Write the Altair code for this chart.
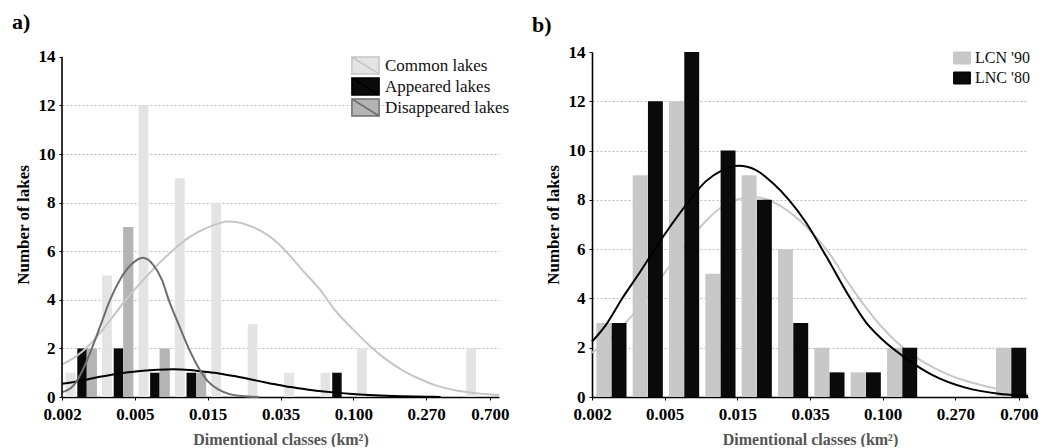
import altair as alt
import pandas as pd

FONT = "Liberation Serif"

# ---------------- shared class axis ----------------
class_index = list(range(12))
tick_pos = [0, 2, 4, 6, 8, 10, 11.75]
tick_text = ["0.002", "0.005", "0.015", "0.035", "0.100", "0.270", "0.700"]
y_ticks = [0, 2, 4, 6, 8, 10, 12, 14]

# ---------------- panel a : bars ----------------
series_a = ["Common lakes", "Appeared lakes", "Disappeared lakes"]
common_lakes = [1, 5, 12, 9, 8, 3, 1, 1, 2, 0, 0, 2]
appeared_lakes = [2, 2, 1, 1, 0, 0, 0, 1, 0, 0, 0, 0]
disappeared_lakes = [2, 7, 2, 1, 0, 0, 0, 0, 0, 0, 0, 0]

# ---------------- panel a : fitted curves ----------------
common_curve_x = [0.0, 0.05, 0.78, 1.24, 1.70, 2.25, 2.80, 3.52, 3.99, 4.57, 5.23, 5.69, 6.13,
                  6.60, 7.06, 7.51, 7.98, 8.44, 8.89, 9.35, 9.81, 10.26, 10.73, 11.19, 11.64, 12.0]
common_curve_y = [1.35, 1.38, 2.18, 3.0, 3.9, 4.85, 5.7, 6.6, 6.97, 7.22, 7.0, 6.62, 6.03,
                  5.22, 4.47, 3.55, 2.8, 2.12, 1.56, 1.1, 0.75, 0.48, 0.3, 0.19, 0.12, 0.08]

appeared_curve_x = [0.0, 0.5, 1.0, 1.4, 2.15, 3.07, 3.5, 3.85, 4.31, 4.77, 5.23, 5.69, 6.13,
                    6.6, 7.06, 7.51, 7.98, 8.44, 8.89, 9.35, 10.0, 10.4]
appeared_curve_y = [0.55, 0.66, 0.82, 0.93, 1.07, 1.14, 1.11, 1.05, 0.97, 0.85, 0.71, 0.57, 0.44,
                    0.34, 0.25, 0.18, 0.12, 0.08, 0.05, 0.03, 0.01, 0.0]

disappeared_curve_x = [0.0, 0.3, 0.55, 0.82, 1.07, 1.32, 1.6, 1.9, 2.22, 2.5, 2.75, 2.93, 3.2,
                       3.48, 3.75, 4.0, 4.3, 4.6, 5.0, 5.4]
disappeared_curve_y = [0.2, 0.45, 1.05, 2.0, 3.0, 4.0, 4.85, 5.45, 5.73, 5.45, 4.8, 4.0, 3.0,
                       2.0, 1.2, 0.65, 0.3, 0.12, 0.03, 0.0]

# ---------------- panel b : bars ----------------
series_b = ["LCN '90", "LNC '80"]
lcn90 = [3, 9, 12, 5, 9, 6, 2, 1, 2, 0, 0, 2]
lnc80 = [3, 12, 14, 10, 8, 3, 1, 1, 2, 0, 0, 2]

# ---------------- panel b : fitted curves ----------------
lcn90_curve_x = [0.0, 0.47, 0.83, 1.3, 1.7, 2.03, 2.5, 3.01, 3.56, 4.11, 4.57, 5.03, 5.57, 5.97,
                 6.52, 7.07, 7.53, 7.99, 8.45, 8.91, 9.36, 9.82, 10.28, 10.73, 11.2, 11.6, 12.0]
lcn90_curve_y = [1.8, 2.3, 2.85, 3.65, 4.4, 5.1, 6.0, 6.95, 7.7, 8.05, 8.1, 7.88, 7.35, 6.8,
                 5.85, 4.6, 3.65, 2.82, 2.14, 1.62, 1.22, 0.9, 0.66, 0.48, 0.32, 0.2, 0.12]

lnc80_curve_x = [0.0, 0.38, 0.83, 1.29, 1.75, 2.21, 2.67, 3.13, 3.58, 4.04, 4.50, 4.96, 5.42,
                 5.88, 6.43, 7.07, 7.53, 7.99, 8.63, 9.36, 10.28, 11.2, 12.0]
lnc80_curve_y = [2.25, 2.92, 4.0, 5.0, 6.05, 7.04, 7.95, 8.75, 9.2, 9.38, 9.22, 8.7, 8.0,
                 7.1, 5.75, 4.1, 3.05, 2.33, 1.58, 0.9, 0.38, 0.13, 0.04]

# ---------------- tables ----------------
bars_a = pd.DataFrame({
    "cls": class_index * 3,
    "count": common_lakes + appeared_lakes + disappeared_lakes,
    "series": sum([[s] * 12 for s in series_a], []),
})
curves_a = pd.DataFrame({
    "u": common_curve_x + appeared_curve_x + disappeared_curve_x,
    "v": common_curve_y + appeared_curve_y + disappeared_curve_y,
    "series": [series_a[0]] * len(common_curve_x) + [series_a[1]] * len(appeared_curve_x)
              + [series_a[2]] * len(disappeared_curve_x),
})
bars_b = pd.DataFrame({
    "cls": class_index * 2,
    "count": lcn90 + lnc80,
    "series": sum([[s] * 12 for s in series_b], []),
})
curves_b = pd.DataFrame({
    "u": lcn90_curve_x + lnc80_curve_x,
    "v": lcn90_curve_y + lnc80_curve_y,
    "series": [series_b[0]] * len(lcn90_curve_x) + [series_b[1]] * len(lnc80_curve_x),
})

# ---------------- scales / axes ----------------
xs = alt.Scale(domain=[0, 12], nice=False, zero=False)
ys_a = alt.Scale(domain=[0, 14.2], nice=False)   # panel a sits slightly lower than panel b
ys_b = alt.Scale(domain=[0, 14], nice=False)

label_expr = f"indexof({tick_pos}, datum.value) >= 0 ? {tick_text}[indexof({tick_pos}, datum.value)] : ''"

x_axis = alt.Axis(values=tick_pos, labelExpr=label_expr, title="Dimentional classes (km²)",
                  grid=False, labelAngle=0, labelFont=FONT, labelFontSize=17, labelFontWeight="bold",
                  labelColor="#000000", titleFont=FONT, titleFontSize=16, titleFontWeight="bold",
                  titleColor="#555555", domainColor="#000000", domainWidth=1.6, tickColor="#000000",
                  tickSize=3, labelPadding=6, titlePadding=9, labelFlush=False, labelOverlap=False)


def y_axis(show_domain):
    return alt.Axis(values=y_ticks, title="Number of lakes", grid=True, gridDash=[2, 2],
                    gridColor="#bdbdbd", gridWidth=1,
                    gridOpacity={"condition": {"test": "datum.value === 14 || datum.value === 0", "value": 0}, "value": 1},
                    labelFont=FONT, labelFontSize=17, labelFontWeight="bold", labelColor="#000000",
                    titleFont=FONT, titleFontSize=17, titleFontWeight="bold", titleColor="#000000",
                    domain=show_domain, domainColor="#000000", domainWidth=1.6, tickColor="#000000",
                    tickSize=3, labelPadding=4, titlePadding=6)


# ---------------- panel a ----------------
fill_a = alt.Scale(domain=series_a, range=["#e4e4e4", "#0a0a0a", "#b4b4b4"])
stroke_a = alt.Scale(domain=series_a, range=["#c6c6c6", "#000000", "#6e6e6e"])
legend_a = alt.Legend(title=None, orient="none", legendX=294, legendY=4, padding=0,
                      symbolType="M-1.6,-1L1.6,-1L1.6,1L-1.6,1Z M-1.6,-1L1.6,1", symbolSize=289,
                      symbolStrokeWidth=1.5,
                      labelFont=FONT, labelFontSize=17, labelColor="#111111", labelOffset=10,
                      rowPadding=-2)

bars_a_layer = alt.Chart(bars_a).transform_filter("datum.count > 0").transform_calculate(
    x0=f"datum.cls + (datum.series == '{series_a[0]}' ? 0.1 : datum.series == '{series_a[1]}' ? 0.42 : 0.68)",
    x1=f"datum.cls + (datum.series == '{series_a[0]}' ? 0.37 : datum.series == '{series_a[1]}' ? 0.68 : 0.96)",
).mark_bar(strokeOpacity=0).encode(
    x=alt.X("x0:Q", scale=xs, axis=x_axis),
    x2="x1:Q",
    y=alt.Y("count:Q", scale=ys_a, axis=y_axis(False)),
    y2=alt.datum(0),
    fill=alt.Fill("series:N", scale=fill_a, legend=legend_a),
    stroke=alt.Stroke("series:N", scale=stroke_a, legend=legend_a),
)

curves_a_layer = alt.Chart(curves_a).mark_line(interpolate="monotone", strokeWidth=2).encode(
    x=alt.X("u:Q", scale=xs),
    y=alt.Y("v:Q", scale=ys_a),
    stroke=alt.Stroke("series:N", scale=stroke_a, legend=None),
    detail="series:N",
)

y_line_a = alt.Chart(bars_a).mark_rule(color="#000000", strokeWidth=1.6).encode(
    x=alt.datum(0, scale=xs), y=alt.datum(0, scale=ys_a), y2=alt.datum(14)
).transform_filter("datum.cls == 0 && datum.series == 'Common lakes'")

panel_a = alt.layer(bars_a_layer, curves_a_layer, y_line_a).properties(
    width=437, height=345,
    title=alt.TitleParams("a)", anchor="start", frame="group", font=FONT, fontSize=22,
                          fontWeight="bold", color="#000000", dx=-50, offset=14),
)

# ---------------- panel b ----------------
fill_b = alt.Scale(domain=series_b, range=["#c8c8c8", "#0a0a0a"])
stroke_b = alt.Scale(domain=series_b, range=["#c8c8c8", "#000000"])
legend_b = alt.Legend(title=None, orient="none", legendX=362, legendY=-2, padding=0,
                      symbolType="M-1.4,-1L1.4,-1L1.4,1L-1.4,1Z", symbolSize=144,
                      symbolStrokeWidth=1,
                      labelFont=FONT, labelFontSize=16, labelColor="#111111", labelOffset=5,
                      rowPadding=4)


def bars_b_layer(name, lo, hi):
    return alt.Chart(bars_b).transform_filter(
        f"datum.count > 0 && datum.series == \"{name}\""
    ).transform_calculate(
        x0=f"datum.cls + {lo}", x1=f"datum.cls + {hi}"
    ).mark_bar(strokeOpacity=0).encode(
        x=alt.X("x0:Q", scale=xs, axis=x_axis),
        x2="x1:Q",
        y=alt.Y("count:Q", scale=ys_b, axis=y_axis(True)),
        y2=alt.datum(0),
        fill=alt.Fill("series:N", scale=fill_b, legend=legend_b),
        stroke=alt.Stroke("series:N", scale=stroke_b, legend=legend_b),
    )


def curve_b_layer(name):
    return alt.Chart(curves_b).transform_filter(
        f"datum.series == \"{name}\""
    ).mark_line(interpolate="monotone", strokeWidth=2).encode(
        x=alt.X("u:Q", scale=xs),
        y=alt.Y("v:Q", scale=ys_b),
        stroke=alt.Stroke("series:N", scale=stroke_b, legend=None),
    )


panel_b = alt.layer(
    bars_b_layer(series_b[0], 0.12, 0.53),
    curve_b_layer(series_b[0]),
    bars_b_layer(series_b[1], 0.54, 0.95),
    curve_b_layer(series_b[1]),
).properties(
    width=436, height=345,
    title=alt.TitleParams("b)", anchor="start", frame="group", font=FONT, fontSize=22,
                          fontWeight="bold", color="#000000", dx=-60, offset=6),
)

chart = alt.hconcat(panel_a, panel_b, spacing=22).resolve_scale(
    fill="independent", stroke="independent", y="independent"
).configure(
    font=FONT, padding={"left": 4, "top": 2, "right": 2, "bottom": 0}
).configure_view(stroke=None)

chart.save("out.html", embed_options={"renderer": "svg", "actions": False})
